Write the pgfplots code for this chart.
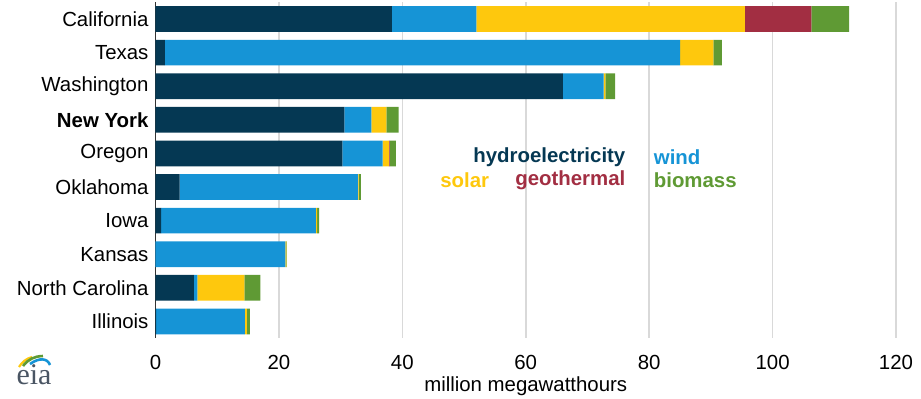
\documentclass[border=0pt]{standalone}
\usepackage{pgfplots}
\usepackage{pgfplotstable}
\pgfplotsset{compat=1.18}
\usepackage{fontspec}
\setmainfont{Liberation Sans}
\newfontfamily\seriffont{Liberation Serif}
\definecolor{hydro}{HTML}{053853}
\definecolor{wind}{HTML}{1694D6}
\definecolor{solar}{HTML}{FEC80D}
\definecolor{geo}{HTML}{A22E42}
\definecolor{bio}{HTML}{5F9A34}
\definecolor{gridc}{HTML}{D9D9D9}
\definecolor{eiagray}{HTML}{4A5563}
\pgfplotstableread{
y hydro wind solar geo bio
0 38.3 13.7 43.5 10.8 6.1
1 1.5 83.5 5.4 0 1.4
2 66.0 6.6 0.3 0 1.6
3 30.6 4.4 2.4 0 2.0
4 30.3 6.5 1.0 0.15 1.0
5 3.9 28.9 0.1 0 0.4
6 0.9 25.1 0.2 0 0.3
7 0 21.05 0.15 0 0.1
8 6.2 0.6 7.6 0 2.6
9 0.1 14.4 0.3 0 0.5
}\data
\begin{document}
\begin{tikzpicture}[font=\fontsize{10.2}{12}\selectfont]
\path[use as bounding box] (-77.75pt,-29.9pt) rectangle (382.75pt,169.1pt);
\begin{axis}[
  at={(0,0)}, anchor=south west,
  scale only axis,
  width=370.25pt, height=168pt,
  xbar stacked,
  bar width=12.85pt,
  xmin=0, xmax=120,
  ymin=-0.5, ymax=9.5,
  y dir=reverse,
  xtick={0,20,...,120},
  ytick={0,...,9},
  yticklabels={California,Texas,Washington,\textbf{New York},Oregon,Oklahoma,Iowa,Kansas,North Carolina,Illinois},
  major tick length=0pt,
  axis line style={draw=none},
  xmajorgrids,
  grid style={gridc, line width=0.8pt},
  extra x ticks={0},
  extra x tick labels={},
  extra x tick style={grid style={black!80, line width=0.7pt}},
  /pgf/number format/assume math mode=true,
  xticklabel style={anchor=center, yshift=-12pt},
  xlabel={million megawatthours},
  xlabel style={at={(rel axis cs:0.5,0)}, anchor=center, yshift=-24pt},
  clip=false,
]
\addplot[fill=hydro, draw=none] table[x=hydro, y=y]{\data};
\addplot[fill=wind, draw=none] table[x=wind, y=y]{\data};
\addplot[fill=solar, draw=none] table[x=solar, y=y]{\data};
\addplot[fill=geo, draw=none] table[x=geo, y=y]{\data};
\addplot[fill=bio, draw=none] table[x=bio, y=y]{\data};
\node[anchor=east, font=\fontsize{10.2}{12}\selectfont\bfseries, text=hydro, inner sep=0pt] at (axis cs:76.2,4.11) {hydroelectricity};
\node[anchor=west, font=\fontsize{10.2}{12}\selectfont\bfseries, text=wind, inner sep=0pt] at (axis cs:80.7,4.11) {wind};
\node[anchor=west, font=\fontsize{10.2}{12}\selectfont\bfseries, text=solar, inner sep=0pt] at (axis cs:46.1,4.79) {solar};
\node[anchor=east, font=\fontsize{10.2}{12}\selectfont\bfseries, text=geo, inner sep=0pt] at (axis cs:76.2,4.79) {geothermal};
\node[anchor=west, font=\fontsize{10.2}{12}\selectfont\bfseries, text=bio, inner sep=0pt] at (axis cs:80.7,4.79) {biomass};
\end{axis}
% eia logo
\node[anchor=base, text=eiagray, font=\fontsize{15}{16}\seriffont, inner sep=0pt] at (-60.75pt,-22.9pt) {eia};
\draw[solar, line width=1.1pt] (-68.25pt,-14.4pt) to[bend left=20] (-61.75pt,-9.4pt);
\draw[bio, line width=1.3pt] (-66.25pt,-13.9pt) to[bend left=25] (-56.25pt,-8.9pt);
\draw[wind, line width=1.3pt] (-62.75pt,-12.9pt) .. controls (-58pt,-9.5pt) and (-54pt,-10pt) .. (-52.75pt,-13.4pt);
\end{tikzpicture}
\end{document}
